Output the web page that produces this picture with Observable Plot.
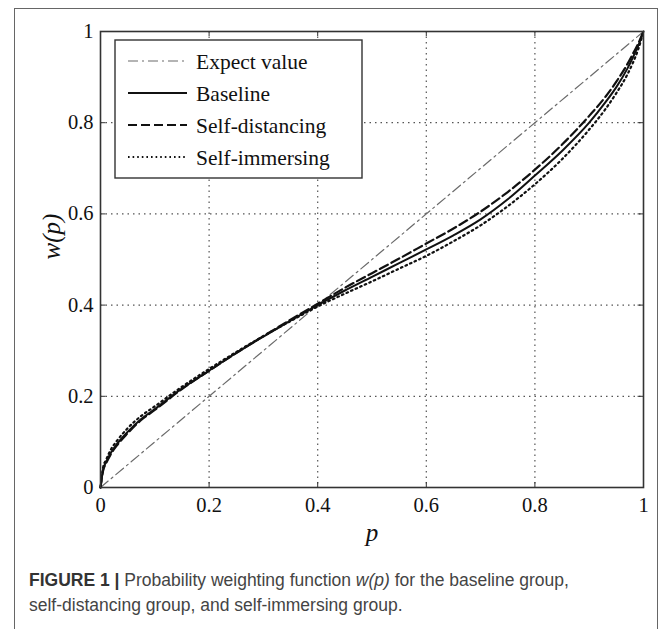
<!DOCTYPE html>
<html>
<head>
<meta charset="utf-8">
<script src="https://cdn.jsdelivr.net/npm/d3@7"></script>
<script src="https://cdn.jsdelivr.net/npm/@observablehq/plot@0.6"></script>
<style>
  html, body { margin: 0; padding: 0; background: #fff; width: 669px; height: 629px; overflow: hidden; }
  #wrap { position: relative; width: 669px; height: 629px; }
  #frame { position: absolute; left: 14px; top: 8px; width: 644px; height: 700px;
           border: 1.5px solid #666; box-sizing: border-box; }
  #chart { position: absolute; left: 0; top: 0; }
  #caption { position: absolute; left: 29px; top: 568px; width: 625px;
             font-family: "Liberation Sans", Arial, sans-serif; font-size: 17.5px; line-height: 25px; color: #444; }
  #caption b { font-weight: bold; color: #333; }
</style>
</head>
<body>
<div id="wrap">
  <div id="frame"></div>
  <div id="chart"></div>
  <div id="caption"><b>FIGURE 1 |</b> Probability weighting function <i>w(p)</i> for the baseline group,<br>self-distancing group, and self-immersing group.</div>
</div>
<script>
// Data
const p          = [0, 0.005, 0.01, 0.02, 0.03, 0.05, 0.075, 0.1, 0.15, 0.2, 0.25, 0.3, 0.35, 0.4, 0.45, 0.5, 0.55, 0.6, 0.65, 0.7, 0.75, 0.8, 0.85, 0.9, 0.93, 0.95, 0.97, 0.98, 0.99, 1];
const baseline   = [0, 0.040, 0.055, 0.078, 0.095, 0.122, 0.150, 0.172, 0.217, 0.256, 0.295, 0.331, 0.366, 0.400, 0.432, 0.462, 0.492, 0.522, 0.553, 0.588, 0.632, 0.684, 0.738, 0.800, 0.845, 0.878, 0.918, 0.942, 0.968, 1];
const distancing = [0, 0.038, 0.052, 0.075, 0.092, 0.119, 0.148, 0.170, 0.216, 0.256, 0.295, 0.332, 0.368, 0.403, 0.438, 0.470, 0.502, 0.535, 0.568, 0.605, 0.648, 0.697, 0.752, 0.815, 0.857, 0.890, 0.928, 0.950, 0.973, 1];
const immersing  = [0, 0.045, 0.060, 0.085, 0.102, 0.130, 0.157, 0.178, 0.221, 0.260, 0.297, 0.332, 0.365, 0.397, 0.425, 0.452, 0.480, 0.508, 0.540, 0.575, 0.617, 0.665, 0.720, 0.785, 0.830, 0.865, 0.905, 0.930, 0.960, 1];
const expectP    = [0, 1];
const expectW    = [0, 1];
const ticks      = [0, 0.2, 0.4, 0.6, 0.8, 1];
const tickLabels = ["0", "0.2", "0.4", "0.6", "0.8", "1"];
const gridTicks  = [0.2, 0.4, 0.6, 0.8];
const legendLabels = ["Expect value", "Baseline", "Self-distancing", "Self-immersing"];

const toRows = (ws) => p.map((x, i) => ({p: x, w: ws[i]}));
const expectRows = expectP.map((x, i) => ({p: x, w: expectW[i]}));

const serif = "'Liberation Serif', 'Times New Roman', serif";
const fmt = (d) => tickLabels[ticks.indexOf(d)] ?? String(d);

const chart = Plot.plot({
  width: 669,
  height: 560,
  marginLeft: 100,
  marginRight: 26,
  marginTop: 31,
  marginBottom: 73,
  style: { fontFamily: serif, fontSize: "20px", color: "#111", background: "transparent" },
  x: { domain: [0, 1], ticks: ticks, tickFormat: fmt },
  y: { domain: [0, 1], ticks: ticks, tickFormat: fmt },
  marks: [
    Plot.gridX(gridTicks, { stroke: "#555", strokeOpacity: 1, strokeWidth: 1.2, strokeDasharray: "1.5,4" }),
    Plot.gridY(gridTicks, { stroke: "#555", strokeOpacity: 1, strokeWidth: 1.2, strokeDasharray: "1.5,4" }),
    // inward ticks on all four sides
    Plot.ruleX(ticks, { x: d => d, y1: 0, y2: 0.011, stroke: "#333" }),
    Plot.ruleX(ticks, { x: d => d, y1: 0.989, y2: 1, stroke: "#333" }),
    Plot.ruleY(ticks, { y: d => d, x1: 0, x2: 0.01, stroke: "#333" }),
    Plot.ruleY(ticks, { y: d => d, x1: 0.99, x2: 1, stroke: "#333" }),
    Plot.axisX({ ticks: ticks, tickFormat: fmt, tickSize: 0, tickPadding: 10, label: null, fontSize: 20.5 }),
    Plot.axisY({ ticks: ticks, tickFormat: fmt, tickSize: 0, tickPadding: 7, label: null, fontSize: 20.5 }),
    Plot.line(expectRows, { x: "p", y: "w", stroke: "#6a6a6a", strokeWidth: 1.2, strokeDasharray: "10,4,2,4" }),
    Plot.line(toRows(immersing), { x: "p", y: "w", stroke: "#111", strokeWidth: 2.2, strokeDasharray: "1.6,3.4", curve: "monotone-x" }),
    Plot.line(toRows(distancing), { x: "p", y: "w", stroke: "#111", strokeWidth: 2.2, strokeDasharray: "9,4", curve: "monotone-x" }),
    Plot.line(toRows(baseline), { x: "p", y: "w", stroke: "#111", strokeWidth: 2, curve: "monotone-x" }),
    Plot.frame({ stroke: "#333", strokeWidth: 1.6 }),
    Plot.text(["w(p)"], { frameAnchor: "left", dx: -49, rotate: -90, fontStyle: "italic", fontSize: 25, fontFamily: serif, fill: "#111" }),
    Plot.text(["p"], { frameAnchor: "bottom", dy: 53, fontStyle: "italic", fontSize: 25, fontFamily: serif, fill: "#111" })
  ]
});
document.getElementById("chart").appendChild(chart);

// Legend box (MATLAB style), drawn into the plot's SVG
const svg = d3.select(chart);
const lg = svg.append("g").attr("aria-label", "legend").attr("text-anchor", "start");
lg.append("rect").attr("x", 115).attr("y", 40).attr("width", 247).attr("height", 138)
  .attr("fill", "#fff").attr("stroke", "#333").attr("stroke-width", 1.4);
const legendStyles = [
  { stroke: "#6a6a6a", width: 1.2, dash: "10,4,2,4" },
  { stroke: "#111", width: 2, dash: null },
  { stroke: "#111", width: 2.2, dash: "9,4" },
  { stroke: "#111", width: 2, dash: "1.6,3" }
];
const rowY = [61, 93, 125, 157];
legendLabels.forEach((label, i) => {
  const s = legendStyles[i];
  const ln = lg.append("line").attr("x1", 128).attr("x2", 187).attr("y1", rowY[i]).attr("y2", rowY[i])
    .attr("stroke", s.stroke).attr("stroke-width", s.width);
  if (s.dash) ln.attr("stroke-dasharray", s.dash);
  lg.append("text").attr("x", 196).attr("y", rowY[i]).attr("dy", "0.35em").attr("text-anchor", "start")
    .attr("font-family", serif).attr("font-size", 21.5).attr("fill", "#111").text(label);
});
</script>
</body>
</html>
